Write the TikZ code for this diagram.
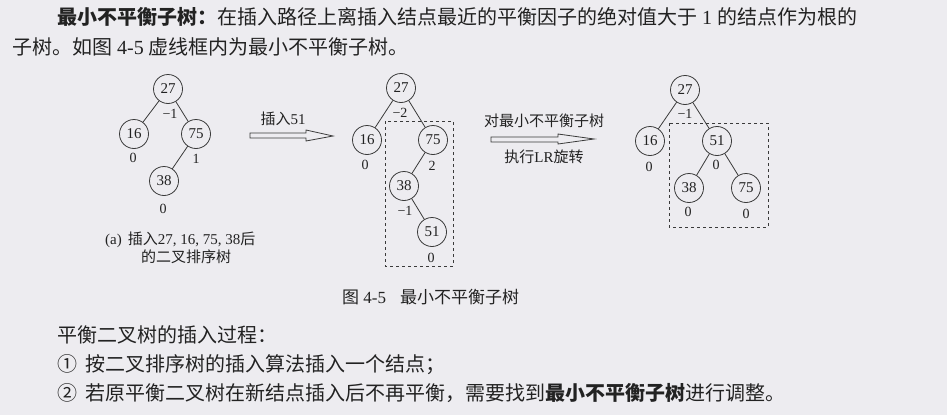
\documentclass[tikz,border=0pt]{standalone}
\usepackage{fontspec}
\setmainfont{Liberation Serif}
\newfontfamily\cjk{Noto Sans CJK SC}
\definecolor{bg}{HTML}{EDECF0}
\definecolor{ink}{HTML}{222222}
\definecolor{ln}{HTML}{3A3A3A}
\begin{document}
\begin{tikzpicture}[x=1pt,y=-1pt,
  nd/.style={draw=ln,circle,line width=0.8pt,minimum size=29pt,inner sep=0pt,font=\fontsize{15}{15}\selectfont,text=ink},
  bf/.style={font=\fontsize{14}{14}\selectfont,text=ink,inner sep=0pt},
  edge/.style={draw=ln,line width=0.8pt},
  dbox/.style={draw=ln,dashed,line width=0.8pt},
  hollow/.style={draw=ln,line width=0.8pt,fill=bg},
  body/.style={font=\fontsize{20}{20}\selectfont,text=ink,inner sep=0pt,anchor=west},
  figtxt/.style={font=\fontsize{15}{15}\selectfont,text=ink,inner sep=0pt}]
\fill[bg] (0,0) rectangle (947,415);
\useasboundingbox (0,0) rectangle (947,415);

% top text
\node[body] (t1) at (57,17) {{\cjk\bfseries 最小不平衡子树：}{\cjk 在插入路径上离插入结点最近的平衡因子的绝对值大于} 1 {\cjk 的结点作为根的}};
\node[body] (t2) at (12,47) {{\cjk 子树。如图} 4-5 {\cjk 虚线框内为最小不平衡子树。}};

% tree (a)
\node[nd] (a27) at (168,89) {27};
\node[nd] (a16) at (134,134) {16};
\node[nd] (a75) at (196,134) {75};
\node[nd] (a38) at (164,181) {38};
\draw[edge] (a27) -- (a16);
\draw[edge] (a27) -- (a75);
\draw[edge] (a75) -- (a38);
\node[bf] (fa27) at (170,114) {−1};
\node[bf] (fa16) at (133,158) {0};
\node[bf] (fa75) at (196,159) {1};
\node[bf] (fa38) at (163,209) {0};
\node[figtxt,anchor=west] (capa1) at (105,240) {(a)\hspace{6pt}{\cjk 插入}27, 16, 75, 38{\cjk 后}};
\node[figtxt,anchor=west] (capa2) at (141,257) {{\cjk 的二叉排序树}};

% arrow 1
\draw[hollow] (250,133) -- (306,133) -- (306,130) -- (333,136) -- (306,141) -- (306,138) -- (250,138) -- cycle;
\node[figtxt] (ar1) at (283,119) {{\cjk 插入}51};

% tree (b)
\node[nd] (b27) at (401,88) {27};
\node[nd] (b16) at (367,140) {16};
\node[nd] (b75) at (433,140) {75};
\node[nd] (b38) at (404,186) {38};
\node[nd] (b51) at (432,232) {51};
\draw[edge] (b27) -- (b16);
\draw[edge] (b27) -- (b75);
\draw[edge] (b75) -- (b38);
\draw[edge] (b38) -- (b51);
\node[bf] (fb27) at (400,113) {−2};
\node[bf] (fb16) at (365,165) {0};
\node[bf] (fb75) at (432,166) {2};
\node[bf] (fb38) at (405,211) {−1};
\node[bf] (fb51) at (431,258) {0};
\draw[dbox] (385,121) rectangle (453,266);

% arrow 2
\draw[hollow] (491,137) -- (558,137) -- (558,134) -- (594,139) -- (558,144) -- (558,142) -- (491,142) -- cycle;
\node[figtxt] (ar2a) at (544,121) {{\cjk 对最小不平衡子树}};
\node[figtxt] (ar2b) at (544,157) {{\cjk 执行}LR{\cjk 旋转}};

% tree (c)
\node[nd] (c27) at (685,90) {27};
\node[nd] (c16) at (650,141) {16};
\node[nd] (c51) at (717,141) {51};
\node[nd] (c38) at (689,188) {38};
\node[nd] (c75) at (746,188) {75};
\draw[edge] (c27) -- (c16);
\draw[edge] (c27) -- (c51);
\draw[edge] (c51) -- (c38);
\draw[edge] (c51) -- (c75);
\node[bf] (fc27) at (685,114) {−1};
\node[bf] (fc16) at (649,167) {0};
\node[bf] (fc51) at (716,165) {0};
\node[bf] (fc38) at (688,212) {0};
\node[bf] (fc75) at (746,214) {0};
\draw[dbox] (669,123) rectangle (768,227);

% caption
\node[font=\fontsize{17}{17}\selectfont,text=ink,inner sep=0pt,anchor=west] (fig) at (342,297) {{\cjk 图} 4-5\hspace{14pt}{\cjk 最小不平衡子树}};

% bottom text
\node[body] (b1) at (57,335) {{\cjk 平衡二叉树的插入过程：}};
\node[body] (b2) at (57,365) {{\cjk ①\hspace{8pt}按二叉排序树的插入算法插入一个结点；}};
\node[body] (b3) at (57,393) {{\cjk ②\hspace{8pt}若原平衡二叉树在新结点插入后不再平衡，需要找到\bfseries 最小不平衡子树\mdseries 进行调整。}};
\end{tikzpicture}
\end{document}
